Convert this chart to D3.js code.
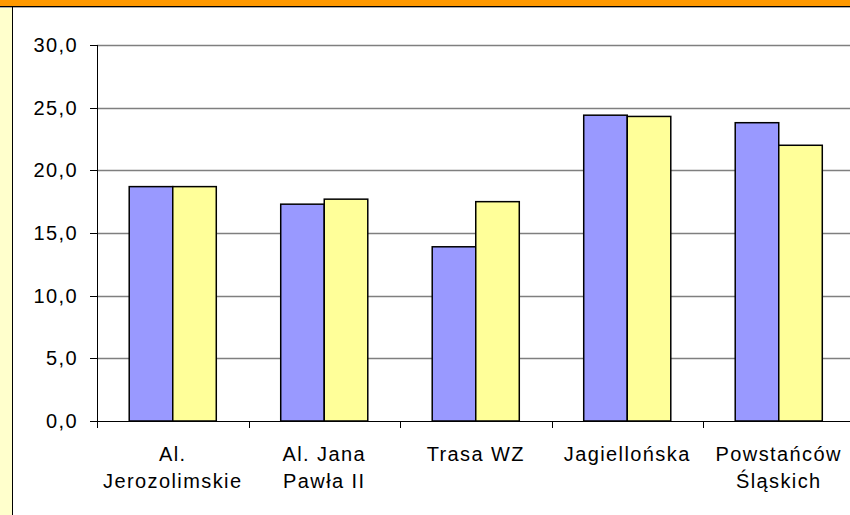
<!DOCTYPE html>
<html>
<head>
  <meta charset="utf-8" />
  <title>Bar chart</title>
  <script src="https://d3js.org/d3.v7.min.js"></script>
  <style>
    body {
      margin: 0;
      background: #fff;
      overflow: hidden;
    }
    svg {
      display: block;
      font-family: "Liberation Sans", Arial, sans-serif;
    }
    .tick-label, .cat-label {
      font-size: 20px;
      letter-spacing: 1.4px;
      fill: #000;
    }
  </style>
</head>
<body>
<svg width="850" height="515"></svg>

<script>
  const categories = [
    ["Al.", "Jerozolimskie"],
    ["Al. Jana", "Pawła II"],
    ["Trasa WZ"],
    ["Jagiellońska"],
    ["Powstańców", "Śląskich"]
  ];
  const seriesNames = ["A", "B"];
  const seriesA = [18.7, 17.3, 13.9, 24.4, 23.8];
  const seriesB = [18.7, 17.7, 17.5, 24.3, 22.0];
  const yTicks = [0, 5, 10, 15, 20, 25, 30];
  const colors = ["#9999ff", "#ffff99"];

  const svg = d3.select("svg"),
        width = 850,
        height = 515;

  // frame: orange band on top, pale strip on the left
  svg.append("rect").attr("x", 0).attr("y", 0).attr("width", width).attr("height", 6).attr("fill", "#ff9900");
  svg.append("rect").attr("x", 0).attr("y", 6).attr("width", 12).attr("height", height).attr("fill", "#ffffcc");
  svg.append("line").attr("x1", 0).attr("x2", width).attr("y1", 6.5).attr("y2", 6.5).attr("stroke", "#000");
  svg.append("line").attr("x1", 0).attr("x2", width).attr("y1", 7.5).attr("y2", 7.5).attr("stroke", "#aaa");
  svg.append("line").attr("x1", 12.5).attr("x2", 12.5).attr("y1", 7).attr("y2", height).attr("stroke", "#000");

  const keys = categories.map(c => c.join(" "));

  const x0 = d3.scaleBand()
    .domain(keys)
    .range([97, 97 + 5 * 151.5])
    .padding(0);

  const x1 = d3.scaleBand()
    .domain(seriesNames)
    .range([0, x0.bandwidth()])
    .paddingInner(0)
    .paddingOuter(0.74);

  const y = d3.scaleLinear()
    .domain([0, 30])
    .range([421, 45]);

  const fmt = v => d3.format(".1f")(v).replace(".", ",");

  // gridlines
  svg.append("g")
    .selectAll("line")
    .data(yTicks.filter(d => d > 0))
    .join("line")
    .attr("x1", 97).attr("x2", width)
    .attr("y1", d => Math.round(y(d)) + 0.5)
    .attr("y2", d => Math.round(y(d)) + 0.5)
    .attr("stroke", "#7f7f7f")
    .attr("stroke-width", 1.5);

  // bars
  const groups = svg.append("g")
    .selectAll("g")
    .data(keys)
    .join("g")
    .attr("transform", d => `translate(${x0(d)},0)`);

  groups.selectAll("rect")
    .data((d, i) => [seriesA[i], seriesB[i]].map((v, j) => ({ key: seriesNames[j], value: v, idx: j })))
    .join("rect")
    .attr("x", d => x1(d.key))
    .attr("width", x1.bandwidth())
    .attr("y", d => y(d.value))
    .attr("height", d => y(0) - y(d.value))
    .attr("fill", d => colors[d.idx])
    .attr("stroke", "#000")
    .attr("stroke-width", 1.5);

  // y axis
  svg.append("line")
    .attr("x1", 97.5).attr("x2", 97.5)
    .attr("y1", 45).attr("y2", 421)
    .attr("stroke", "#000");

  const yAxis = svg.append("g");
  yAxis.selectAll("line")
    .data(yTicks)
    .join("line")
    .attr("x1", 90).attr("x2", 97)
    .attr("y1", d => Math.round(y(d)) + 0.5)
    .attr("y2", d => Math.round(y(d)) + 0.5)
    .attr("stroke", "#000");
  yAxis.selectAll("text")
    .data(yTicks)
    .join("text")
    .attr("class", "tick-label")
    .attr("x", 78)
    .attr("y", d => y(d) + 7)
    .attr("text-anchor", "end")
    .text(fmt);

  // x axis
  svg.append("line")
    .attr("x1", 97).attr("x2", width)
    .attr("y1", 421.5).attr("y2", 421.5)
    .attr("stroke", "#000");

  const edges = keys.map(k => x0(k)).concat([x0.range()[1]]);
  svg.append("g")
    .selectAll("line")
    .data(edges)
    .join("line")
    .attr("x1", d => Math.round(d) + 0.5)
    .attr("x2", d => Math.round(d) + 0.5)
    .attr("y1", 421).attr("y2", 428)
    .attr("stroke", "#000");

  const labels = svg.append("g")
    .selectAll("text")
    .data(categories)
    .join("text")
    .attr("class", "cat-label")
    .attr("text-anchor", "middle")
    .attr("x", (d, i) => x0(keys[i]) + x0.bandwidth() / 2)
    .attr("y", 461);

  labels.selectAll("tspan")
    .data(d => d)
    .join("tspan")
    .attr("x", function () { return this.parentNode.getAttribute("x"); })
    .attr("dy", (d, i) => i === 0 ? 0 : 27)
    .text(d => d);
</script>
</body>
</html>
